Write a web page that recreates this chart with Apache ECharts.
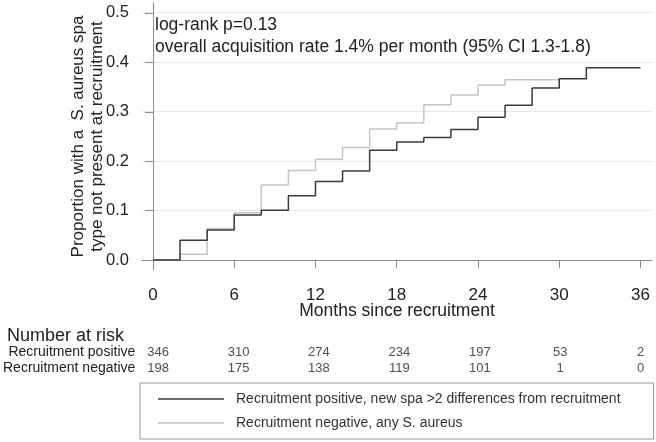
<!DOCTYPE html>
<html><head><meta charset="utf-8">
<script src="https://cdn.jsdelivr.net/npm/echarts@6/dist/echarts.min.js"></script>
<style>html,body{margin:0;padding:0;background:#fff}#c{width:656px;height:442px}</style>
</head><body><div id="c"></div>
<script>
// Kaplan-Meier style cumulative proportions (step at each time)
const posTimes  = [0, 2, 4, 6, 8, 10, 12, 14, 16, 18, 20, 22, 24, 26, 28, 30, 32, 36];
const posValues = [0, 0.040, 0.061, 0.091, 0.101, 0.130, 0.159, 0.180, 0.222, 0.239, 0.248, 0.264, 0.289, 0.313, 0.348, 0.367, 0.389, 0.389];
const negTimes  = [0, 2, 4, 6, 8, 10, 12, 14, 16, 18, 20, 22, 24, 26, 30];
const negValues = [0, 0.012, 0.064, 0.096, 0.152, 0.181, 0.204, 0.228, 0.265, 0.278, 0.314, 0.334, 0.354, 0.365, 0.365];
const xTicks = [0, 6, 12, 18, 24, 30, 36];
const yTicks = [0, 0.1, 0.2, 0.3, 0.4, 0.5];
const riskTimes = [0, 6, 12, 18, 24, 30, 36];
const riskPos = [346, 310, 274, 234, 197, 53, 2];
const riskNeg = [198, 175, 138, 119, 101, 1, 0];
const rowLabels = ['Recruitment positive', 'Recruitment negative'];
const seriesNames = ['Recruitment positive, new spa >2 differences from recruitment', 'Recruitment negative, any S. aureus'];

const FONT = 'Liberation Sans, Arial, sans-serif';
const axisGrey = '#8c8c8c';
const zip = (a, b) => a.map((v, i) => [v, b[i]]);

const riskData = [];
riskTimes.forEach((t, i) => { riskData.push([t, 0, riskPos[i]]); riskData.push([t, 1, riskNeg[i]]); });

const chart = echarts.init(document.getElementById('c'), null, {renderer: 'canvas'});
chart.setOption({
  animation: false,
  textStyle: {fontFamily: FONT},
  title: [
    {text: 'Number at risk', left: 7, top: 327, padding: 0,
     textStyle: {fontSize: 18, fontWeight: 'normal', color: '#222', fontFamily: FONT}},
    {text: 'log-rank p=0.13\noverall acquisition rate 1.4% per month (95% CI 1.3-1.8)', left: 155, top: 14, padding: 0,
     textStyle: {fontSize: 17.5, lineHeight: 22, fontWeight: 'normal', color: '#222', fontFamily: FONT}}
  ],
  grid: [
    {left: 142, right: 4, top: 3, bottom: 172},
    {left: 142, right: 4, top: 344, height: 32},
    {left: 142, right: 4, top: 12.7, bottom: 181.8}
  ],
  xAxis: [
    {type: 'value', gridIndex: 0, min: -0.81, max: 36.85,
     name: 'Months since recruitment', nameLocation: 'middle', nameGap: 32, nameMoveOverlap: false,
     nameTextStyle: {fontSize: 17.5, color: '#222', fontFamily: FONT},
     axisLine: {lineStyle: {color: axisGrey}},
     axisTick: {show: true, length: 8, lineStyle: {color: axisGrey}, customValues: xTicks},
     axisLabel: {fontSize: 17, color: '#222', margin: 17, customValues: xTicks, fontFamily: FONT},
     splitLine: {show: false}},
    {type: 'value', gridIndex: 1, min: -0.81, max: 36.85, show: false},
    {type: 'value', gridIndex: 2, min: -0.81, max: 36.85, show: false}
  ],
  yAxis: [
    {type: 'value', gridIndex: 0, min: -0.02, max: 0.52,
     name: 'Proportion with a  S. aureus spa\ntype not present at recruitment',
     nameLocation: 'middle', nameGap: 35, nameRotate: 90, nameMoveOverlap: false,
     nameTextStyle: {fontSize: 17, lineHeight: 19, color: '#222', fontFamily: FONT},
     axisLine: {show: true, lineStyle: {color: axisGrey}},
     axisTick: {show: true, length: 8, lineStyle: {color: axisGrey}, customValues: yTicks},
     axisLabel: {fontSize: 16.5, color: '#222', margin: 13, customValues: yTicks,
                 formatter: v => v.toFixed(1), fontFamily: FONT},
     splitLine: {show: false}},
    {type: 'category', gridIndex: 1, data: rowLabels, inverse: true,
     axisLine: {show: false}, axisTick: {show: false}, splitLine: {show: false},
     axisLabel: {interval: 0, fontSize: 14, color: '#222', margin: 12, fontFamily: FONT}},
    {type: 'value', gridIndex: 2, min: 0, max: 0.5, interval: 0.1,
     axisLine: {show: false}, axisTick: {show: false}, axisLabel: {show: false},
     splitLine: {show: true, lineStyle: {color: '#eaeaea', width: 1}}}
  ],
  legend: {
    orient: 'vertical', left: 140, top: 383,
    padding: [9, 33, 9, 18], itemGap: 10, itemWidth: 66, itemHeight: 1.6,
    icon: 'rect',
    borderColor: '#9a9a9a', borderWidth: 1,
    textStyle: {fontSize: 14, lineHeight: 14, color: '#333', fontFamily: FONT, padding: [0, 0, 0, 7]},
    data: seriesNames
  },
  series: [
    {name: seriesNames[0], type: 'line', step: 'end', xAxisIndex: 0, yAxisIndex: 0,
     data: zip(posTimes, posValues), symbol: 'none', z: 3,
     lineStyle: {color: '#3a3a3a', width: 1.5}, itemStyle: {color: '#3a3a3a'}},
    {name: seriesNames[1], type: 'line', step: 'end', xAxisIndex: 0, yAxisIndex: 0,
     data: zip(negTimes, negValues), symbol: 'none', z: 2,
     lineStyle: {color: '#c4c4c4', width: 1.5}, itemStyle: {color: '#c4c4c4'}},
    {name: 'risk', type: 'scatter', xAxisIndex: 1, yAxisIndex: 1,
     data: riskData, symbolSize: 1, itemStyle: {color: 'rgba(0,0,0,0)'},
     label: {show: true, position: 'inside', formatter: p => String(p.value[2]),
             fontSize: 13, color: '#222', fontFamily: FONT},
     silent: true}
  ]
});
</script>
</body></html>
